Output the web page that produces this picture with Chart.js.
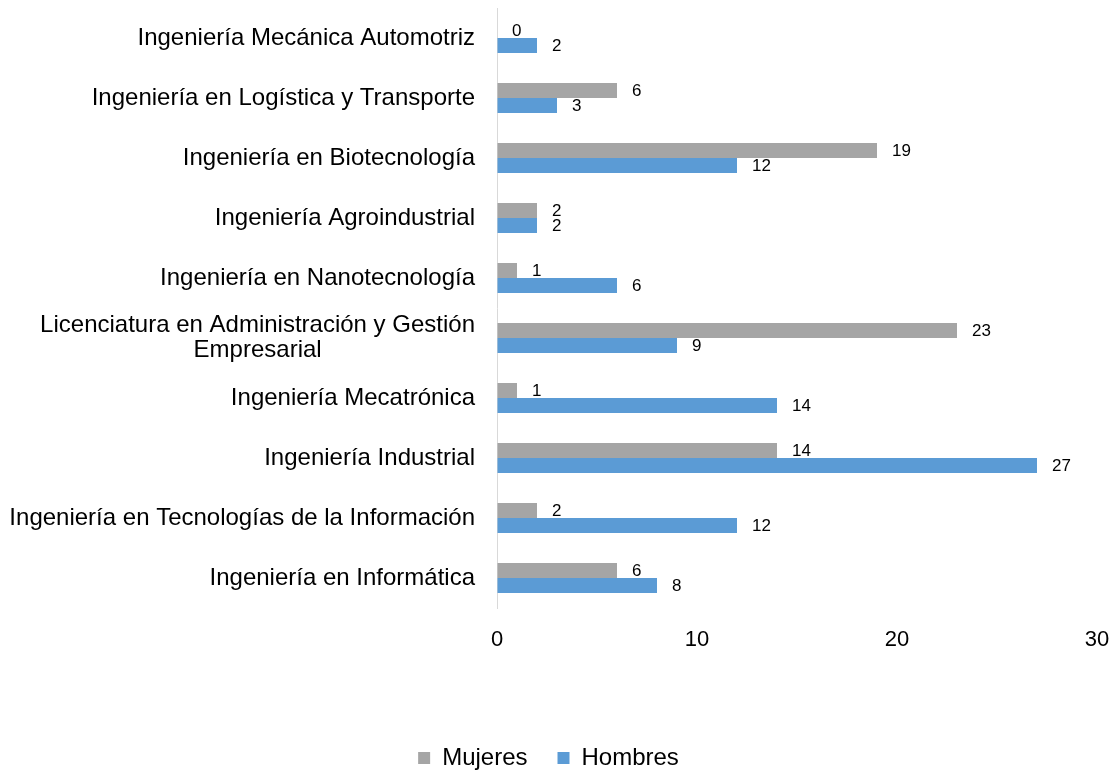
<!DOCTYPE html>
<html>
<head>
<meta charset="utf-8">
<script src="https://cdn.jsdelivr.net/npm/chart.js@4/dist/chart.umd.min.js"></script>
<style>
  html, body { margin: 0; padding: 0; background: #fff; }
  #wrap { width: 1113px; height: 771px; position: relative; }
</style>
</head>
<body>
<div id="wrap"><canvas id="carreras"></canvas></div>
<script>
// Carreras, top to bottom as in the picture
const carreras = [
  'Ingeniería Mecánica Automotriz',
  'Ingeniería en Logística y Transporte',
  'Ingeniería en Biotecnología',
  'Ingeniería Agroindustrial',
  'Ingeniería en Nanotecnología',
  ['Licenciatura en Administración y Gestión', 'Empresarial                       '],
  'Ingeniería Mecatrónica',
  'Ingeniería Industrial',
  'Ingeniería en Tecnologías de la Información',
  'Ingeniería en Informática'
];
const mujeres = [0, 6, 19, 2, 1, 23, 1, 14, 2, 6];
const hombres = [2, 3, 12, 2, 6, 9, 14, 27, 12, 8];
const xTicks = [0, 10, 20, 30];

const FONT = '"Liberation Sans", Arial, Helvetica, sans-serif';
const PLOT_BOTTOM = 608;
const LEGEND_SHIFT = 9; // legend sits a bit lower than Chart.js puts it

// value labels right of each bar end
const barLabels = {
  id: 'barLabels',
  afterDatasetsDraw(chart) {
    const ctx = chart.ctx;
    ctx.save();
    ctx.font = '17px ' + FONT;
    ctx.fillStyle = '#000';
    ctx.textAlign = 'left';
    ctx.textBaseline = 'middle';
    chart.data.datasets.forEach((ds, i) => {
      chart.getDatasetMeta(i).data.forEach((bar, j) => {
        ctx.fillText(String(ds.data[j]), bar.x + 15, bar.y + 1);
      });
    });
    ctx.restore();
  }
};

Chart.defaults.font.family = FONT;
Chart.defaults.color = '#000';

new Chart(document.getElementById('carreras'), {
  type: 'bar',
  data: {
    labels: carreras,
    datasets: [
      {
        label: 'Mujeres',
        data: mujeres,
        backgroundColor: '#a5a5a5',
        categoryPercentage: 0.5,
        barPercentage: 1.0
      },
      {
        label: 'Hombres',
        data: hombres,
        backgroundColor: '#5b9bd5',
        categoryPercentage: 0.5,
        barPercentage: 1.0
      }
    ]
  },
  plugins: [barLabels],
  options: {
    indexAxis: 'y',
    responsive: true,
    maintainAspectRatio: false,
    animation: false,
    layout: { padding: { top: 8, right: 16, left: 0, bottom: -LEGEND_SHIFT } },
    plugins: {
      legend: {
        position: 'bottom',
        labels: {
          boxWidth: 12,
          boxHeight: 12,
          padding: 10,
          font: { size: 24 },
          color: '#000',
          generateLabels(chart) {
            return chart.data.datasets.map((ds, i) => ({
              text: ds.label + (i === 0 ? '   ' : ''),
              fillStyle: ds.backgroundColor,
              strokeStyle: ds.backgroundColor,
              lineWidth: 0,
              datasetIndex: i
            }));
          }
        }
      },
      tooltip: { enabled: false }
    },
    scales: {
      x: {
        min: 0,
        max: 30,
        afterBuildTicks(scale) {
          scale.ticks = xTicks.map(v => ({ value: v }));
        },
        afterFit(scale) {
          const lg = scale.chart.legend;
          scale.height = scale.chart.height + LEGEND_SHIFT - (lg ? lg.height : 0) - PLOT_BOTTOM;
          scale.paddingLeft = 0;
          scale.paddingRight = 0;
        },
        grid: {
          display: true, drawOnChartArea: false, drawTicks: true,
          tickLength: 19, color: 'rgba(0,0,0,0)'
        },
        border: { display: false },
        ticks: { font: { size: 22 }, padding: 0, color: '#000' }
      },
      y: {
        afterFit(scale) {
          scale.width = 497;
          scale.paddingTop = 0;
          scale.paddingBottom = 0;
        },
        grid: {
          display: true, drawOnChartArea: false, drawTicks: true,
          tickLength: 22, color: 'rgba(0,0,0,0)'
        },
        border: { display: true, color: '#d9d9d9', width: 1 },
        ticks: { font: { size: 24, lineHeight: 1.05 }, padding: 0, color: '#000' }
      }
    }
  }
});
</script>
</body>
</html>
